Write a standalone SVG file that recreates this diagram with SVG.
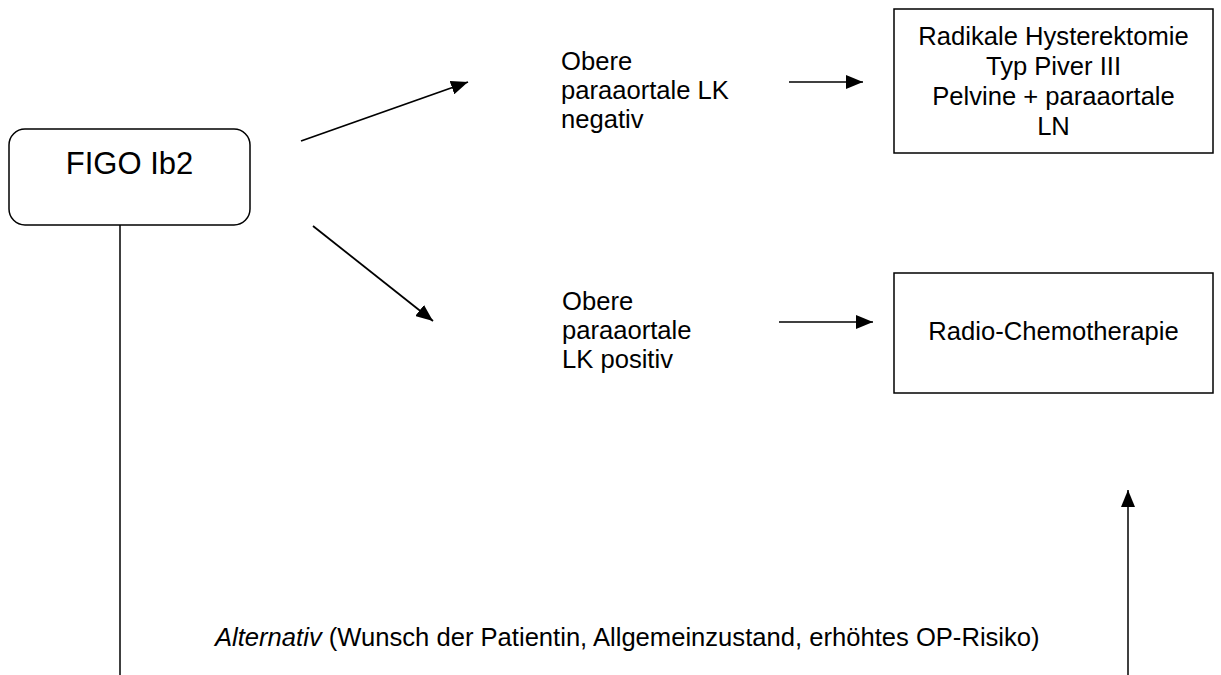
<svg xmlns="http://www.w3.org/2000/svg" width="1221" height="675" viewBox="0 0 1221 675">
  <style>
    .box { fill: #ffffff; stroke: #000000; stroke-width: 1.5; }
    .txt { font-family: "Liberation Sans", Arial, sans-serif; font-size: 25.6px; fill: #000000; }
    .mid { text-anchor: middle; }
    .conn { stroke: #000000; stroke-width: 1.5; fill: none; }
    .diag { stroke-width: 1.8; }
    .arrow { marker-end: url(#head); }
  </style>
  <defs>
    <marker id="head" markerUnits="userSpaceOnUse" markerWidth="17" markerHeight="14" refX="17" refY="7" orient="auto">
      <path d="M0,0 L17,7 L0,14 Z" fill="#000000"/>
    </marker>
  </defs>
  <rect width="1221" height="675" fill="#ffffff"/>

  <!-- connectors -->
  <g id="connectors">
    <line class="conn diag arrow" x1="301" y1="141" x2="468" y2="82"/>
    <line class="conn diag arrow" x1="313" y1="226" x2="433" y2="321"/>
    <line class="conn arrow" x1="789" y1="82" x2="863" y2="82"/>
    <line class="conn arrow" x1="779" y1="322" x2="873" y2="322"/>
    <line class="conn" x1="120" y1="225" x2="120" y2="675"/>
    <line class="conn arrow" x1="1128" y1="675" x2="1128" y2="490"/>
  </g>

  <!-- start node -->
  <g id="figo">
    <rect class="box" x="9" y="129" width="241" height="96" rx="16" ry="16"/>
    <text class="txt mid" x="129.5" y="174" style="font-size:31px">FIGO Ib2</text>
  </g>

  <!-- branch labels -->
  <g id="lk-negativ">
    <text class="txt" x="561" y="70">Obere</text>
    <text class="txt" x="561" y="99">paraaortale LK</text>
    <text class="txt" x="561" y="128">negativ</text>
  </g>
  <g id="lk-positiv">
    <text class="txt" x="562" y="310">Obere</text>
    <text class="txt" x="562" y="339">paraaortale</text>
    <text class="txt" x="562" y="368">LK positiv</text>
  </g>

  <!-- therapy boxes -->
  <g id="hysterektomie">
    <rect class="box" x="894" y="9" width="319" height="144"/>
    <text class="txt mid" x="1053.5" y="45">Radikale Hysterektomie</text>
    <text class="txt mid" x="1053.5" y="75">Typ Piver III</text>
    <text class="txt mid" x="1053.5" y="105">Pelvine + paraaortale</text>
    <text class="txt mid" x="1053.5" y="135">LN</text>
  </g>
  <g id="radiochemo">
    <rect class="box" x="894" y="273" width="319" height="120"/>
    <text class="txt mid" x="1053.5" y="340">Radio-Chemotherapie</text>
  </g>

  <!-- alternative path note -->
  <g id="alternativ">
    <text class="txt" x="215" y="646"><tspan font-style="italic">Alternativ</tspan> (Wunsch der Patientin, Allgemeinzustand, erhöhtes OP-Risiko)</text>
  </g>
</svg>
